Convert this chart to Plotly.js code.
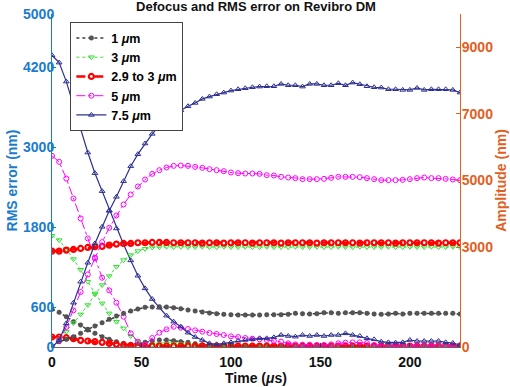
<!DOCTYPE html>
<html>
<head>
<meta charset="utf-8">
<script src="https://cdn.plot.ly/plotly-3.0.1.min.js"></script>
<style>
  html, body { margin: 0; padding: 0; background: #fff; }
  #chart { width: 510px; height: 387px; }
</style>
</head>
<body>
<div id="chart"></div>
<script>
// time axis, one sample every 4 us
const time = [];
for (let t = 0; t <= 228; t += 4) time.push(t);

// amplitude (right axis, nm)
const amp1 = [0,160,230,310,410,530,630,730,830,930,
  1010,1080,1140,1190,1200,1210,1200,1180,1150,1110,
  1080,1050,1020,1000,980,970,960,960,960,960,
  970,970,970,980,1010,1000,990,1000,1030,1030,
  1010,1030,1030,1030,1010,990,980,990,1010,990,
  1010,1010,1010,1010,1010,1010,1010,990];
const amp3 = [0,230,460,720,980,1260,1580,1860,2130,2410,
  2610,2760,2880,2950,2990,3000,3010,3000,3010,3000,
  3000,3010,3000,3000,3010,3000,3000,3010,3000,3000,
  3010,3000,3000,3000,3010,3000,3000,3010,3000,3000,
  3010,3000,3000,3010,3000,3000,3000,3010,3000,3000,
  3010,3000,3000,3010,3000,3000,3010,3000];
const ampStep = [2880,2880,2910,2930,2960,2990,3010,3020,3060,3090,
  3110,3110,3130,3130,3140,3140,3140,3130,3130,3130,
  3130,3120,3130,3130,3120,3130,3130,3130,3120,3130,
  3130,3130,3120,3130,3130,3130,3130,3120,3130,3130,
  3130,3130,3130,3120,3130,3130,3130,3130,3120,3130,
  3130,3130,3130,3130,3120,3130,3130,3130];
const amp5 = [0,200,600,1100,1650,2180,2680,3150,3580,3950,
  4280,4580,4820,5030,5200,5310,5390,5440,5450,5440,
  5410,5380,5340,5310,5280,5240,5220,5210,
  5210,5200,5160,5150,5110,5090,5070,5040,5040,5040,
  5050,5080,5110,5110,5110,5100,5070,5040,5010,5010,
  5010,5020,5040,5070,5090,5070,5070,5050,5030,5010];
const amp75 = [0,200,710,1330,1960,2530,3110,3610,4090,4510,
  4980,5430,5790,6110,6400,6640,6830,6980,7110,7230,
  7330,7450,7520,7590,7640,7700,7740,7770,
  7800,7820,7830,7830,7900,7860,7860,7820,7900,7900,
  7860,7860,7920,7860,7940,7890,7830,7800,7790,7740,
  7740,7720,7720,7780,7720,7740,7740,7740,7720,7640];

// RMS error (left axis, nm)
const rms1 = [566,520,455,380,330,255,205,155,115,80,
  55,40,50,70,90,105,105,95,80,70,
  50,35,25,20,20,20,20,20,20,20,
  20,20,20,20,20,20,20,20,20,20,
  20,20,20,20,20,20,20,20,20,20,
  20,20,20,20,20,20,20,20];
const rms3 = [1670,1605,1470,1320,1160,980,805,655,505,380,
  280,165,80,40,40,45,50,50,45,40,
  30,25,20,20,20,15,15,15,15,15,
  15,15,15,15,15,15,15,15,15,15,
  15,15,15,15,15,15,15,15,15,15,
  15,15,15,15,15,15,15,15];
const rmsStep = [150,150,140,125,100,90,80,70,55,40,
  30,20,15,15,15,15,15,15,15,15,
  15,15,15,15,15,15,15,15,15,15,
  15,15,15,15,15,15,15,15,15,15,
  15,15,15,15,15,15,15,15,15,15,
  15,15,15,15,15,15,15,15];
const rms5 = [2870,2780,2530,2230,1930,1630,1330,1040,850,665,
  455,205,80,30,135,215,265,305,290,270,
  250,230,210,195,180,160,150,135,125,115,
  105,90,80,55,40,35,35,30,30,40,
  55,65,70,70,60,30,15,15,15,15,
  15,15,15,15,15,15,15,15];
const rms75 = [4380,4270,3985,3620,3270,2920,2610,2340,2050,1780,
  1540,1300,1070,880,720,590,470,380,305,215,
  150,105,55,40,55,70,95,105,115,130,
  130,145,180,165,155,180,165,180,165,180,
  180,205,180,165,130,115,80,70,65,70,
  105,90,90,90,90,70,60,30];

const series = [
  { name: "1 <i>μ</i>m", amp: amp1, rms: rms1, color: "#3c3c3c", dash: "dot", width: 1.5,
    symbol: "circle", size: 4.5, mlw: 0.5, fill: "#555555" },
  { name: "3 <i>μ</i>m", amp: amp3, rms: rms3, color: "#33e033", dash: "dot", width: 1,
    symbol: "triangle-down-open", size: 5, mlw: 1 },
  { name: "2.9 to 3 <i>μ</i>m", amp: ampStep, rms: rmsStep, color: "#ff0000", dash: "dash", width: 2.5,
    symbol: "circle-open", size: 5, mlw: 2.2 },
  { name: "5 <i>μ</i>m", amp: amp5, rms: rms5, color: "#ff00ff", dash: "dashdot", width: 1,
    symbol: "circle-open", size: 5, mlw: 1 },
  { name: "7.5 <i>μ</i>m", amp: amp75, rms: rms75, color: "#2e3192", dash: "solid", width: 1.2,
    symbol: "triangle-up-open", size: 5, mlw: 1 }
];

const traces = [];
series.forEach((s, i) => {
  const marker = {
    symbol: s.symbol, size: s.size,
    color: s.fill || s.color,
    line: { color: s.color, width: s.mlw }
  };
  const line = { color: s.color, dash: s.dash, width: s.width };
  traces.push({
    type: "scatter", mode: "lines+markers", x: time, y: s.amp, yaxis: "y2",
    name: s.name, legendgroup: "g" + i, showlegend: true, line, marker
  });
  traces.push({
    type: "scatter", mode: "lines+markers", x: time, y: s.rms, yaxis: "y",
    name: s.name, legendgroup: "g" + i, showlegend: false, line, marker
  });
});

const leftColor = "#1a7ccc";
const rightColor = "#e0601f";
const boldFont = (size, color) => ({ family: "Liberation Sans, Arial, sans-serif", size, color, weight: "bold" });

Plotly.newPlot("chart", traces, {
  width: 510,
  height: 387,
  paper_bgcolor: "#fff",
  plot_bgcolor: "#fff",
  margin: { l: 52, r: 50, t: 14, b: 40 },
  font: boldFont(14, "#000"),
  title: {
    text: "Defocus and RMS error on Revibro DM",
    font: boldFont(13, "#111"),
    x: 0.5, xref: "paper", xanchor: "center",
    y: 1, yref: "container", yanchor: "top", pad: { t: 2 }
  },
  xaxis: {
    range: [0, 228],
    tickvals: [0, 50, 100, 150, 200],
    ticks: "inside", ticklen: 4, tickcolor: "#333",
    ticklabelstandoff: 2,
    showline: true, linecolor: "#666", linewidth: 1,
    showgrid: false, zeroline: false,
    tickfont: boldFont(14, "#111"),
    title: { text: "Time (<i>μ</i>s)", font: boldFont(14, "#111"), standoff: 2 }
  },
  yaxis: {
    range: [0, 5000],
    tickvals: [0, 600, 1800, 3000, 4200, 5000],
    ticks: "inside", ticklen: 4, tickcolor: leftColor,
    ticklabelstandoff: -6,
    showline: true, linecolor: leftColor, linewidth: 1,
    showgrid: false, zeroline: false,
    tickfont: boldFont(14, leftColor),
    title: { text: "RMS error (nm)", font: boldFont(14, leftColor), standoff: 2 }
  },
  yaxis2: {
    range: [0, 10000],
    overlaying: "y", side: "right",
    tickvals: [0, 3000, 5000, 7000, 9000],
    ticks: "inside", ticklen: 4, tickcolor: rightColor,
    ticklabelstandoff: -2,
    showline: true, linecolor: rightColor, linewidth: 1,
    showgrid: false, zeroline: false,
    tickfont: boldFont(14, rightColor),
    title: { text: "Amplitude (nm)", font: boldFont(14, rightColor), standoff: 2 }
  },
  legend: {
    x: 0.045, y: 0.975, xanchor: "left", yanchor: "top",
    bgcolor: "#fff", bordercolor: "#444", borderwidth: 1,
    font: boldFont(12.5, "#000"),
    itemwidth: 30, tracegroupgap: 0
  },
  showlegend: true
}, { displayModeBar: false, staticPlot: true });
</script>
</body>
</html>
